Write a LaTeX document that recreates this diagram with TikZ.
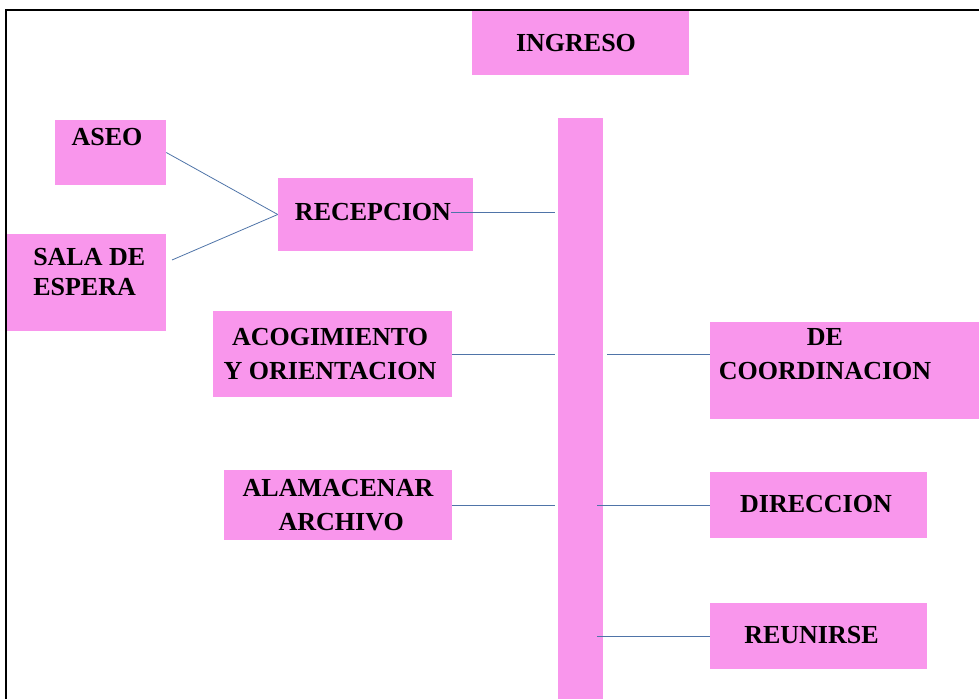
\documentclass[tikz,border=0pt]{standalone}
\usepackage{fontspec}
\setmainfont{Liberation Serif}
\usetikzlibrary{positioning}
\definecolor{boxpink}{RGB}{249,150,236}
\definecolor{linkblue}{RGB}{79,116,168}
\tikzset{
    pinkbox/.style 2 args={fill=boxpink, draw=none, inner sep=0pt,
        minimum width=#1*0.75pt, minimum height=#2*0.75pt},
    boxtext/.style={font=\bfseries\fontsize{19.5}{25.5}\selectfont, inner sep=0pt, align=center},
    link/.style={draw=linkblue, line width=0.6pt}
}

\begin{document}
\begin{tikzpicture}[x=0.75pt, y=-0.75pt]
    \useasboundingbox (0,0) rectangle (979,699);

    % Boxes
    \node[pinkbox={217}{65}] (ingreso) at (580.5,42.5) {};
    \node[pinkbox={111}{65}] (aseo) at (110.5,152.5) {};
    \node[pinkbox={159}{97}] (sala) at (86.5,282.5) {};
    \node[pinkbox={195}{73}] (recepcion) at (375.5,214.5) {};
    \node[pinkbox={239}{86}] (acogimiento) at (332.5,354) {};
    \node[pinkbox={228}{70}] (alamacenar) at (338,505) {};
    \node[pinkbox={45}{581}] (bar) at (580.5,408.5) {};
    \node[pinkbox={269}{97}] (coordinacion) at (844.5,370.5) {};
    \node[pinkbox={217}{66}] (direccion) at (818.5,505) {};
    \node[pinkbox={217}{66}] (reunirse) at (818.5,636) {};

    % Texts
    \node[boxtext] (ingresotxt) at (576,43) {INGRESO};
    \node[boxtext] (aseotxt) at (107,137) {ASEO};
    \node[boxtext, align=left, anchor=west, font=\bfseries\fontsize{19.5}{22.5}\selectfont] (salatxt) at (33,272) {SALA DE\\ESPERA};
    \node[boxtext] (recepciontxt) at (373,212) {RECEPCION};
    \node[boxtext] (acogimientotxt) at (330,354) {ACOGIMIENTO\\Y ORIENTACION};
    \node[boxtext] (alamacenartxt) at (338,505) {ALAMACENAR\\\ ARCHIVO};
    \node[boxtext] (coordinaciontxt) at (825,354) {DE\\COORDINACION};
    \node[boxtext] (direcciontxt) at (816,504) {DIRECCION};
    \node[boxtext] (reunirsetxt) at (811.5,635) {REUNIRSE};

    % Links
    \coordinate (salaout) at (172,260);
    \draw[link] (aseo.east) -- (recepcion.west);
    \draw[link] (salaout) -- (recepcion.west);
    \draw[link, shorten >=2.25pt] (recepciontxt.east) -- (bar.west |- recepciontxt.east);
    \draw[link, shorten >=2.25pt] (acogimiento.east) -- (bar.west |- acogimiento.east);
    \draw[link, shorten <=3pt] (bar.east |- acogimiento.east) -- (coordinacion.west |- acogimiento.east);
    \draw[link, shorten >=2.25pt] (alamacenar.east) -- (bar.west |- alamacenar.east);
    \draw[link, shorten <=-4.5pt] (bar.east |- direccion.west) -- (direccion.west);
    \draw[link, shorten <=-4.5pt] (bar.east |- reunirse.west) -- (reunirse.west);

    % Frame
    \draw[line width=1.5pt] (6,699) -- (6,10) -- (979,10);
\end{tikzpicture}
\end{document}
